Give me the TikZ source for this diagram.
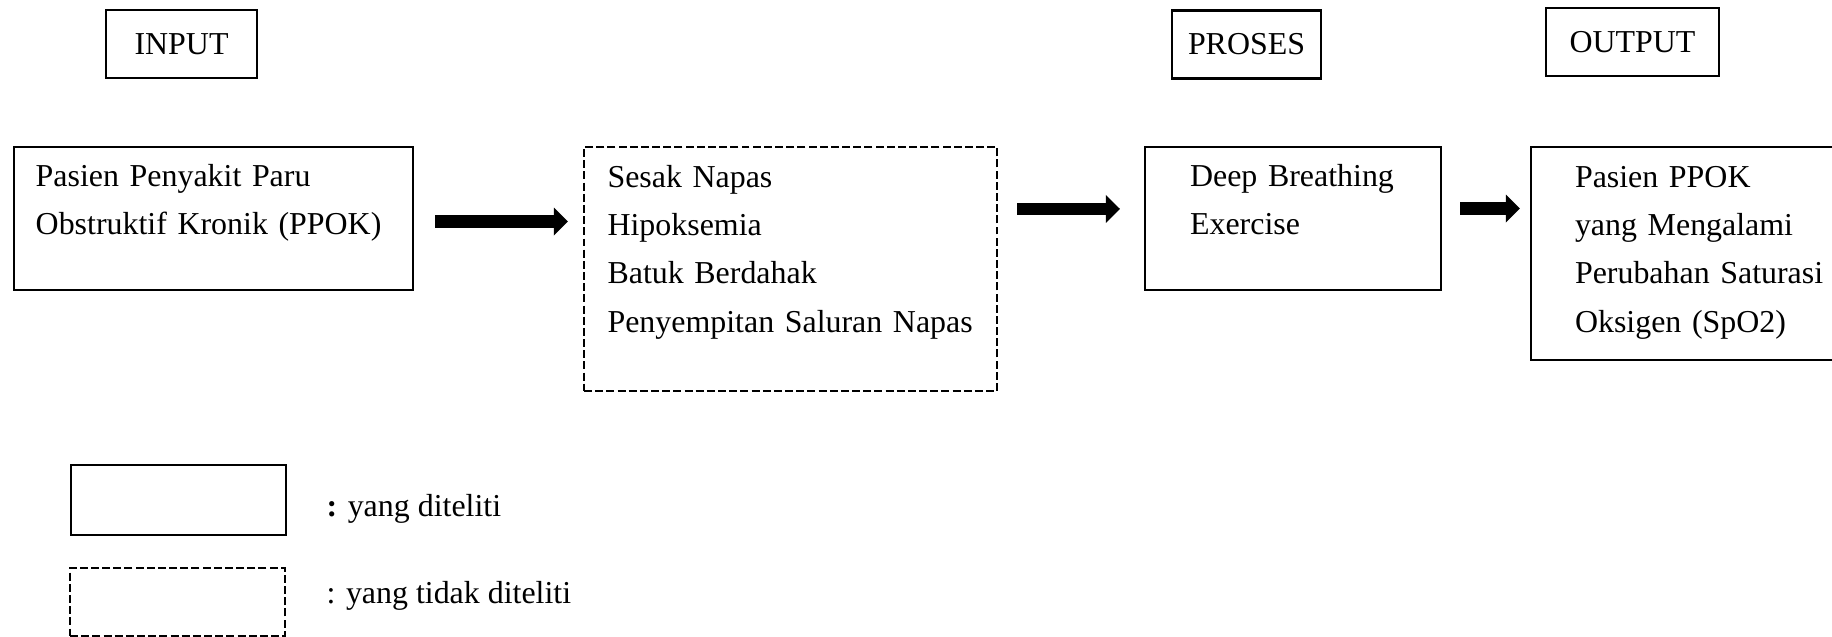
\documentclass[tikz,border=0pt]{standalone}
\usepackage{fontspec}
\setmainfont{Liberation Serif}
\usetikzlibrary{arrows.meta}

\begin{document}
\begin{tikzpicture}[
    font=\fontsize{12}{18.2}\selectfont,
    header/.style={rectangle, draw, line width=0.8pt, inner sep=0pt, minimum height=0.9cm},
    solidbox/.style={rectangle, draw, line width=0.8pt, anchor=north west, align=left, inner ysep=0pt},
    dashbox/.style={solidbox, dash pattern=on 3pt off 1.2pt},
    panah/.style={line width=4.7pt, -{Triangle[width=10.2pt, length=5.3pt]}}
]
\useasboundingbox (0,0) rectangle (24.21,-8.418);

% Header labels
\node[header, minimum width=1.995cm] (input) at (2.399,-0.581) {INPUT};
\node[header, minimum width=1.969cm] (proses) at (16.473,-0.588) {PROSES};
\node[header, minimum width=2.286cm] (output) at (21.574,-0.555) {OUTPUT};

% Main boxes
\node[solidbox, text width=4.70cm, inner xsep=0.286cm, text height=0.515cm, text depth=1.374cm] (pasien) at (0.172,-1.929) {Pasien Penyakit Paru\\
Obstruktif Kronik (PPOK)};
\node[dashbox, text width=4.837cm, inner xsep=0.311cm, text height=0.529cm, text depth=2.696cm] (gejala) at (7.704,-1.929) {Sesak Napas\\
Hipoksemia\\
Batuk Berdahak\\
Penyempitan Saluran Napas};
\node[solidbox, text width=2.722cm, inner xsep=0.595cm, text height=0.515cm, text depth=1.374cm] (latihan) at (15.118,-1.929) {Deep Breathing\\
Exercise};
\node[solidbox, text width=3.304cm, inner xsep=0.581cm, text height=0.529cm, text depth=2.286cm] (hasil) at (20.219,-1.929) {Pasien PPOK\\
yang Mengalami\\
Perubahan Saturasi\\
Oksigen (SpO2)};

% Arrows
\coordinate (p1) at ([yshift=-0.04cm]pasien.east);
\coordinate (p2) at ([yshift=0.126cm]latihan.west);
\coordinate (p3) at ([yshift=0.132cm]latihan.east);
\draw[panah, shorten <=0.278cm, shorten >=0.198cm] (p1) -- (p1 -| gejala.west);
\draw[panah, shorten <=0.251cm, shorten >=0.317cm] (p2 -| gejala.east) -- (p2);
\draw[panah, shorten <=0.238cm, shorten >=0.132cm] (p3) -- (p3 -| hasil.west);

% Legend
\node[solidbox, anchor=center, minimum width=2.841cm, minimum height=0.925cm] (ket1) at (2.359,-6.608) {};
\node[dashbox, anchor=center, minimum width=2.841cm, minimum height=0.899cm] (ket2) at (2.346,-7.956) {};
\node[anchor=base west, inner sep=0pt] (teks1) at (4.308,-6.819) {\textbf{:} yang diteliti};
\node[anchor=base west, inner sep=0pt] (teks2) at (4.308,-7.969) {: yang tidak diteliti};

\end{tikzpicture}
\end{document}
